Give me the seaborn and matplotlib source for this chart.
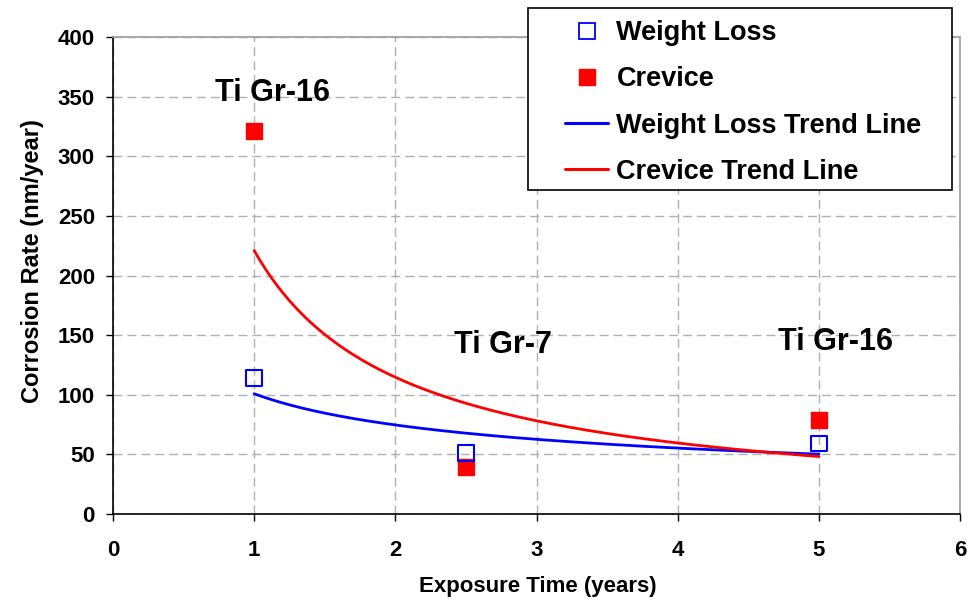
import numpy as np
import pandas as pd
import matplotlib
matplotlib.use("Agg")
import matplotlib.pyplot as plt
import seaborn as sns
from matplotlib.lines import Line2D
from matplotlib.patches import Rectangle

years = [1.0, 2.5, 5.0]
weight_loss = [114, 51, 59]
crevice = [321, 39, 79]
labels = ["Ti Gr-16", "Ti Gr-7", "Ti Gr-16"]
legend_labels = ["Weight Loss", "Crevice", "Weight Loss Trend Line", "Crevice Trend Line"]

sns.set_theme(style="white")
plt.rcParams['font.family'] = ['Liberation Sans', 'DejaVu Sans']
plt.rcParams['font.weight'] = 'bold'
for k in ["text.color", "axes.labelcolor", "xtick.color", "ytick.color"]:
    plt.rcParams[k] = "black"

W, H = 977, 600
fig = plt.figure(figsize=(W / 100, H / 100), dpi=100)
ax = fig.add_axes([113 / W, 1 - 514 / H, (960 - 113) / W, (514 - 37) / H])

# power-law trend lines fitted to the data (log-log least squares)
xs = np.linspace(1, 5, 200)
bw, aw = np.polyfit(np.log(years), np.log(weight_loss), 1)
bc, ac = np.polyfit(np.log(years), np.log(crevice), 1)
trend = pd.DataFrame({"x": xs, "wl": np.exp(aw) * xs ** bw, "cr": np.exp(ac) * xs ** bc})

sns.lineplot(data=trend, x="x", y="wl", color="#0000ff", lw=2, ax=ax)
sns.lineplot(data=trend, x="x", y="cr", color="#ff0000", lw=2, ax=ax)

pts = pd.DataFrame({"x": years, "wl": weight_loss, "cr": crevice})
sns.scatterplot(data=pts, x="x", y="cr", marker="s", s=125, color="#ff0000",
                edgecolor="#ff0000", linewidth=1, ax=ax, zorder=5)
sns.scatterplot(data=pts, x="x", y="wl", marker="s", s=125, facecolor="none",
                edgecolor="#0000ff", linewidth=1.5, ax=ax, zorder=6)

ax.set_xlim(0, 6)
ax.set_ylim(0, 400)
ax.set_xticks(range(0, 7))
ax.set_yticks(range(0, 401, 50))
ax.grid(True, color="#b0b0b0", linestyle=(0, (6.5, 3.5)), linewidth=1)
for s in ["top", "right"]:
    ax.spines[s].set_color("#a0a0a0")
for s in ["left", "bottom"]:
    ax.spines[s].set_color("black")
    ax.spines[s].set_linewidth(1.2)
ax.tick_params(axis="both", direction="out", length=5, width=1, color="black",
               labelsize=16, left=True, bottom=True)
ax.tick_params(axis="y", pad=8)
ax.tick_params(axis="x", pad=14)
for t in ax.get_xticklabels() + ax.get_yticklabels():
    t.set_fontweight("bold")
ax.set_xlabel("Exposure Time (years)", fontsize=16, fontweight="bold")
ax.set_ylabel("Corrosion Rate (nm/year)", fontsize=17, fontweight="bold")
ax.xaxis.set_label_coords(0.502, (514 - 576) / 477)
ax.yaxis.set_label_coords((44 - 113) / 847, (514 - 261) / 477)

ax.text(1.133, 353, labels[0], fontsize=22, fontweight="bold", ha="center", va="center")
ax.text(2.762, 142, labels[1], fontsize=22, fontweight="bold", ha="center", va="center")
ax.text(5.12, 144, labels[2], fontsize=22, fontweight="bold", ha="center", va="center")

# legend box
fig.patches.append(Rectangle((528 / W, 1 - 190 / H), (952 - 528) / W, (190 - 8) / H,
                             transform=fig.transFigure, facecolor="white",
                             edgecolor="black", linewidth=1.2, zorder=9))
handles = [
    Line2D([], [], marker="s", ls="none", markerfacecolor="white", markeredgecolor="#0000ff",
           markersize=11.5, markeredgewidth=1.3),
    Line2D([], [], marker="s", ls="none", markerfacecolor="#ff0000", markeredgecolor="#ff0000",
           markersize=11.5),
    Line2D([], [], color="#0000ff", lw=2.2),
    Line2D([], [], color="#ff0000", lw=2.2),
]
leg = fig.legend(handles, legend_labels,
                 loc="upper left", bbox_to_anchor=(565 / W, 1 - 20 / H), frameon=False,
                 prop={"weight": "bold", "size": 19.5}, handlelength=1.6,
                 labelspacing=0.75, borderpad=0.0, borderaxespad=0.0, handletextpad=0.3)
leg.set_zorder(10)

fig.savefig("out.png", dpi=100, facecolor="white")
